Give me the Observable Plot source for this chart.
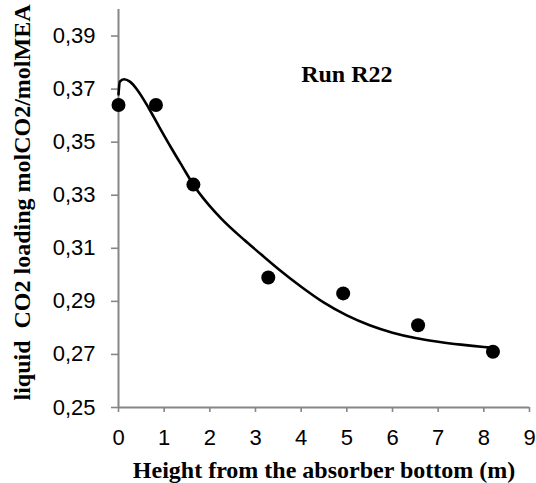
<!DOCTYPE html>
<html>
<head>
<meta charset="utf-8">
<script src="https://cdn.jsdelivr.net/npm/d3@7"></script>
<script src="https://cdn.jsdelivr.net/npm/@observablehq/plot@0.6"></script>
<style>
  html, body { margin: 0; padding: 0; background: #fff; }
</style>
</head>
<body>
<div id="chart"></div>
<script>
// Measured points
const heights = [0, 0.82, 1.64, 3.28, 4.92, 6.56, 8.2];
const loadings = [0.364, 0.364, 0.334, 0.299, 0.293, 0.281, 0.271];

// Model curve
const fitHeights = [0, 0.03, 0.12, 0.25, 0.42, 0.67, 0.9, 1.15, 1.4, 1.65, 1.85, 2.0, 2.25, 2.75, 3.0, 3.5, 4.0, 4.5, 5.0, 5.5, 6.0, 6.5, 7.0, 7.5, 8.0, 8.2];
const fitLoadings = [0.368, 0.3728, 0.3737, 0.3728, 0.3695, 0.3626, 0.3555, 0.348, 0.3408, 0.3337, 0.3290, 0.3259, 0.3212, 0.3132, 0.3095, 0.3022, 0.2955, 0.2895, 0.2847, 0.2810, 0.2782, 0.2762, 0.2748, 0.2737, 0.2728, 0.2725];

const xTicks = [0, 1, 2, 3, 4, 5, 6, 7, 8, 9];
const yTicks = [0.25, 0.27, 0.29, 0.31, 0.33, 0.35, 0.37, 0.39];
const xDomain = [0, 9];
const yDomain = [0.25, 0.40];

const xTitle = "Height from the absorber bottom (m)";
const yTitle = "liquid  CO2 loading molCO2/molMEA";
const runLabel = [{x: 5.0, y: 0.3755, text: "Run R22"}];

const points = heights.map((h, i) => ({h, v: loadings[i]}));
const fit = fitHeights.map((h, i) => ({h, v: fitLoadings[i]}));

const axisGray = "#868686";
const serif = "'Liberation Serif', 'Times New Roman', serif";

const chart = Plot.plot({
  width: 536,
  height: 483,
  marginLeft: 118,
  marginRight: 7,
  marginTop: 9,
  marginBottom: 76,
  style: {fontFamily: "'Liberation Sans', Arial, sans-serif", fontSize: "22px", color: "black", background: "white"},
  x: {domain: xDomain},
  y: {domain: yDomain},
  marks: [
    Plot.axisY({ticks: yTicks, tickFormat: d => d.toFixed(2).replace(".", ","), tickSize: 7, tickPadding: 16, stroke: axisGray, strokeWidth: 1.6, fill: "black", fontSize: 22, label: null}),
    Plot.axisX({ticks: xTicks, tickFormat: d => String(d), tickSize: 5, tickPadding: 17, stroke: axisGray, strokeWidth: 1.6, fill: "black", fontSize: 22, label: null}),
    Plot.ruleX([xDomain[0]], {y1: yDomain[0], y2: yDomain[1], stroke: axisGray, strokeWidth: 2}),
    Plot.ruleY([yDomain[0]], {x1: xDomain[0], x2: xDomain[1], stroke: axisGray, strokeWidth: 2}),
    Plot.line(fit, {x: "h", y: "v", curve: "monotone-x", stroke: "black", strokeWidth: 2.6}),
    Plot.dot(points, {x: "h", y: "v", r: 7, fill: "black", stroke: "none"}),
    Plot.text(runLabel, {x: "x", y: "y", text: "text", fontFamily: serif, fontWeight: "bold", fontSize: 24, fill: "black"}),
    Plot.text([xTitle], {frameAnchor: "bottom", lineAnchor: "middle", text: d => d, dy: 63, fontFamily: serif, fontWeight: "bold", fontSize: 24, fill: "black"}),
    Plot.text([yTitle], {frameAnchor: "left", textAnchor: "middle", text: d => d, rotate: -90, dx: -96, dy: -6, fontFamily: serif, fontWeight: "bold", fontSize: 24, fill: "black"})
  ]
});
document.getElementById("chart").appendChild(chart);
</script>
</body>
</html>
